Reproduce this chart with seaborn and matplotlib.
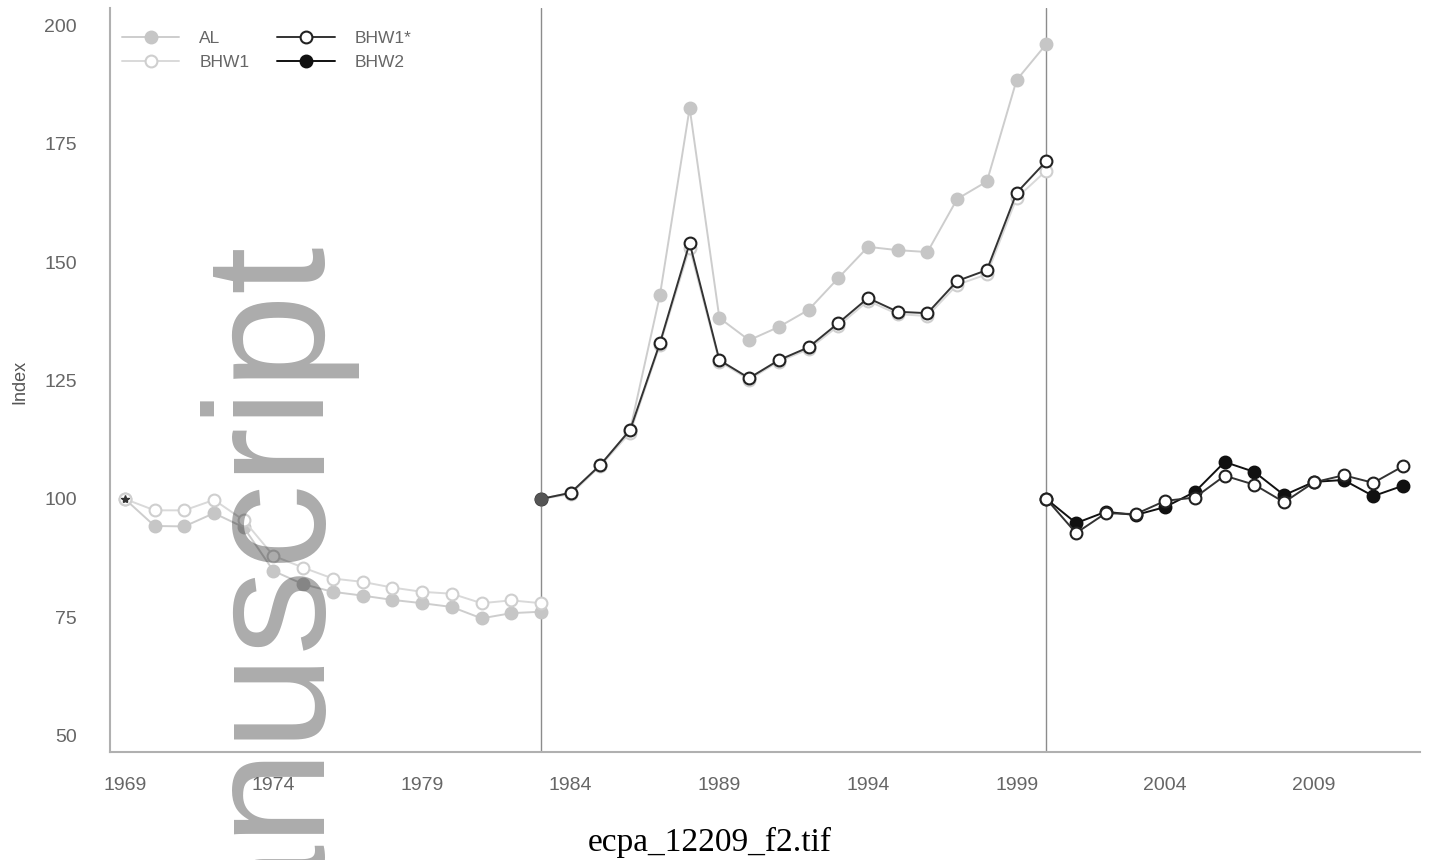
import numpy as np
import pandas as pd
import matplotlib
matplotlib.use("Agg")
import matplotlib.pyplot as plt
from matplotlib.ticker import MultipleLocator
import seaborn as sns

# ---- data -------------------------------------------------------------
years_p1 = list(range(1969, 1984))
al_p1 = [100, 94.3, 94.2, 97.0, 94.0, 84.8, 82.0, 80.4, 79.6, 78.7, 78.0, 77.2, 74.8, 75.9, 76.2]
bhw1_p1 = [100, 97.6, 97.6, 99.8, 95.5, 88.0, 85.5, 83.2, 82.5, 81.3, 80.4, 80.0, 78.0, 78.6, 78.0]

years_p2 = list(range(1983, 2001))
al_p2 = [100, 101.3, 107.2, 114.6, 143.0, 182.5, 138.2, 133.5, 136.3, 139.9,
         146.6, 153.2, 152.5, 152.1, 163.3, 167.0, 188.4, 196.0]
bhw1_p2 = [100, 101.0, 107.0, 114.0, 132.5, 153.0, 129.0, 125.2, 129.0, 131.6,
           136.5, 141.8, 139.0, 138.6, 145.2, 147.4, 163.5, 169.3]
bhw1s_p2 = [100, 101.3, 107.2, 114.6, 132.9, 154.0, 129.3, 125.5, 129.3, 132.0,
            137.1, 142.4, 139.5, 139.2, 146.0, 148.3, 164.6, 171.3]

years_p3 = list(range(2000, 2013))
bhw1s_p3 = [100, 92.8, 97.0, 96.8, 99.6, 100.3, 104.9, 103.0, 99.3, 103.5, 105.0, 103.4, 106.9]
bhw2_p3 = [100, 94.9, 97.3, 96.6, 98.3, 101.5, 107.8, 105.7, 100.8, 103.6, 104.0, 100.6, 102.8]

base_years = [1969, 1983]
base_index = [100, 100]
break_years = [1983, 2000]

x_ticks = list(range(1969, 2010, 5))
y_ticks = [50, 75, 100, 125, 150, 175, 200]

# ---- long-form table ---------------------------------------------------
frames = []
for series, period, yrs, vals in [
    ("AL", 1, years_p1, al_p1),
    ("BHW1", 1, years_p1, bhw1_p1),
    ("AL", 2, years_p2, al_p2),
    ("BHW1", 2, years_p2, bhw1_p2),
    ("BHW1*", 2, years_p2, bhw1s_p2),
    ("BHW1*", 3, years_p3, bhw1s_p3),
    ("BHW2", 3, years_p3, bhw2_p3),
]:
    frames.append(pd.DataFrame({"year": yrs, "index": vals,
                                "series": series, "period": period}))
df = pd.concat(frames, ignore_index=True)

styles = {
    "AL": dict(color="#cdcdcd", marker="o", markerfacecolor="#c6c6c6",
               markeredgecolor="#c6c6c6", zorder=2),
    "BHW1": dict(color="#d9d9d9", marker="o", markerfacecolor="white",
                 markeredgecolor="#cfcfcf", zorder=2),
    "BHW1*": dict(color="#333333", marker="o", markerfacecolor="white",
                  markeredgecolor="#222222", zorder=4),
    "BHW2": dict(color="#111111", marker="o", markerfacecolor="#111111",
                 markeredgecolor="#111111", zorder=3),
}

# ---- figure ------------------------------------------------------------
sns.set_theme(style="white")
plt.rcParams["font.family"] = ["Liberation Sans", "DejaVu Sans"]

fig = plt.figure(figsize=(14.32, 8.6), dpi=100)
ax = fig.add_axes([110 / 1432, 1 - 752 / 860, 1310 / 1432, 744 / 860])

for yr in break_years:
    ax.axvline(yr, color="#8c8c8c", lw=1.0, zorder=1)

seen = set()
for series in ["AL", "BHW1", "BHW1*", "BHW2"]:
    for period in [1, 2, 3]:
        sub = df[(df.series == series) & (df.period == period)]
        if sub.empty:
            continue
        label = series if series not in seen else None
        seen.add(series)
        sns.lineplot(data=sub, x="year", y="index", ax=ax, estimator=None,
                     sort=False, lw=1.4, markersize=8.5, markeredgewidth=1.5,
                     label=label, **styles[series])

# base-year markers
ax.plot(base_years[:1], base_index[:1], linestyle="none", marker="*",
        markersize=6, color="#333333", zorder=5)
ax.plot(base_years[1:], base_index[1:], linestyle="none", marker="o",
        markersize=8.5, color="#555555", zorder=5)

ax.set_xlim(1968.5, 2012.57)
ax.set_ylim(46.6, 203.6)
ax.set_xticks(x_ticks)
ax.xaxis.set_minor_locator(MultipleLocator(1))
ax.set_yticks(y_ticks)
ax.set_xlabel("")
ax.set_ylabel("")
fig.text(20 / 1432, 1 - 382 / 860, "Index", rotation=90, ha="center",
         va="center", fontsize=13, color="#555555")

for side in ["top", "right"]:
    ax.spines[side].set_visible(False)
for side in ["left", "bottom"]:
    ax.spines[side].set_color("#b0b0b0")
    ax.spines[side].set_linewidth(1.5)

ax.tick_params(axis="both", which="major", direction="out", length=6,
               width=1, color="#9a9a9a", labelcolor="#666666", labelsize=14)
ax.tick_params(axis="x", which="minor", direction="out", length=5,
               width=1, color="#9a9a9a")
ax.tick_params(axis="x", which="major", pad=12)
ax.tick_params(axis="y", which="major", pad=18)

leg = ax.legend(ncol=2, loc="upper left", frameon=False, fontsize=12.5,
                handlelength=3.3, handletextpad=1.15, columnspacing=1.6,
                labelspacing=0.5, borderaxespad=0.3,
                bbox_to_anchor=(0.0, 0.985))
for t in leg.get_texts():
    t.set_color("#666666")

# watermark text and file caption
fig.text(311 / 1432, 1 - 232 / 860, "Manuscript", rotation=90,
         rotation_mode="anchor", ha="right", va="baseline", fontsize=123,
         color="black", alpha=0.33, family="Liberation Sans", zorder=10)
fig.text(710 / 1432, 1 - 842 / 860, "ecpa_12209_f2.tif", ha="center",
         va="center", fontsize=24, family="Liberation Serif", color="black")

fig.savefig("out.png", dpi=100, facecolor="white")
